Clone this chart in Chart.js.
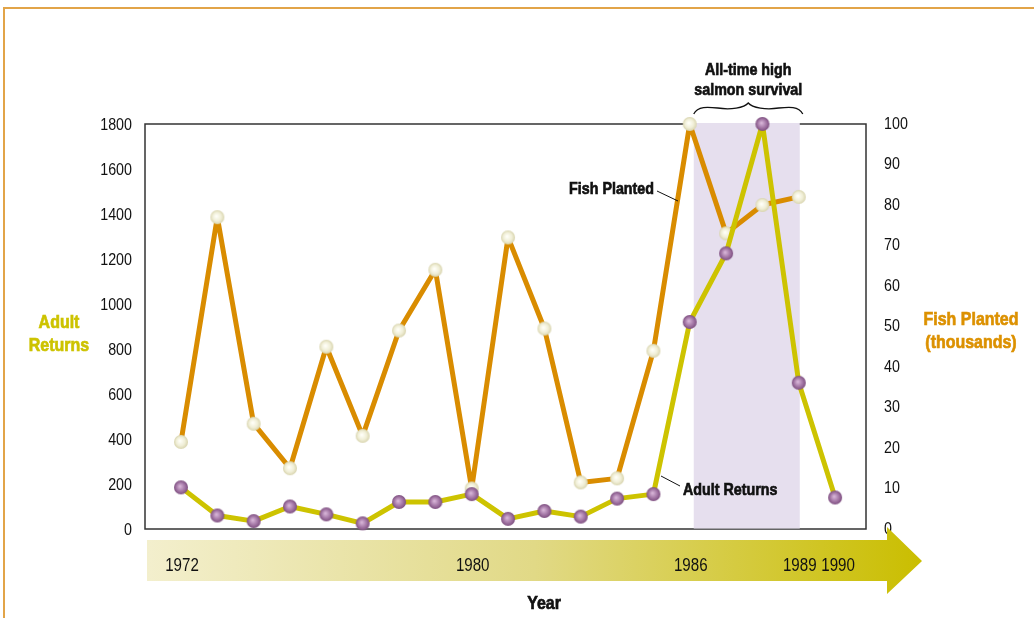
<!DOCTYPE html>
<html>
<head>
<meta charset="utf-8">
<script src="https://cdn.jsdelivr.net/npm/chart.js@4"></script>
<style>
  html, body { margin: 0; padding: 0; background: #fff; }
  #wrap { position: relative; width: 1034px; height: 618px; overflow: hidden; }
  #frame { position: absolute; left: 3px; top: 7px; width: 1040px; height: 700px;
           border-top: 2px solid #e2a448; border-left: 2px solid #e2a448; }
  canvas { position: absolute; left: 0; top: 0; }
</style>
</head>
<body>
<div id="wrap">
  <div id="frame"></div>
  <canvas id="chart" width="1034" height="618"></canvas>
</div>
<script>
// --- DATA ---
const years = [1972, 1973, 1974, 1975, 1976, 1977, 1978, 1979, 1980, 1981,
               1982, 1983, 1984, 1985, 1986, 1987, 1988, 1989, 1990];
// Fish planted, thousands (right axis), no value for 1990
const fishPlanted = [21.5, 77, 26, 15, 45, 23, 49, 64, 10, 72,
                     49.5, 11.5, 12.5, 44, 100, 73, 80, 82];
// Adult returns (left axis)
const adultReturns = [185, 60, 35, 100, 65, 25, 120, 120, 155, 45,
                      80, 55, 135, 155, 920, 1225, 1800, 650, 140];
const leftTicks = [0, 200, 400, 600, 800, 1000, 1200, 1400, 1600, 1800];
const rightTicks = [0, 10, 20, 30, 40, 50, 60, 70, 80, 90, 100];
const yearLabels = [1972, 1980, 1986, 1989, 1990];
const survivalBand = [1986, 1989];

const FONT = "'Liberation Sans', Arial, sans-serif";
const SQUEEZE = 0.84;   // fake a condensed face
const ORANGE = '#d98c00';
const LIME = '#cdc300';

// condensed text helper; heavy=true thickens bold labels a bit
function text(ctx, str, x, y, font, color, align, heavy) {
    ctx.save();
    ctx.translate(x, y);
    ctx.scale(SQUEEZE, 1);
    ctx.font = font;
    ctx.fillStyle = color;
    ctx.textAlign = align || 'center';
    ctx.textBaseline = 'middle';
    ctx.fillText(str, 0, 0);
    if (heavy) {
        ctx.strokeStyle = color;
        ctx.lineWidth = 0.7;
        ctx.strokeText(str, 0, 0);
    }
    ctx.restore();
}

// small shaded balls used as point markers
function makeBall(r, inner, outer, edge) {
    const c = document.createElement('canvas');
    c.width = c.height = r * 2 + 2;
    const g = c.getContext('2d');
    const cx = r + 1;
    const grad = g.createRadialGradient(cx - 1, cx - 1, 0.5, cx, cx, r);
    grad.addColorStop(0, inner);
    grad.addColorStop(0.6, outer);
    grad.addColorStop(1, edge);
    g.fillStyle = grad;
    g.beginPath();
    g.arc(cx, cx, r, 0, Math.PI * 2);
    g.fill();
    return c;
}
const creamBall = makeBall(7, '#fffff8', '#f0eed6', '#d8d4ae');
const purpleBall = makeBall(7, '#d6b3d6', '#a275a4', '#7e4f80');

// --- DECORATIONS ---
const decorPlugin = {
    id: 'decor',
    beforeDatasetsDraw(chart) {
        const { ctx, chartArea: a, scales } = chart;
        ctx.save();
        // plot frame
        ctx.strokeStyle = '#333';
        ctx.lineWidth = 1.5;
        ctx.strokeRect(a.left, a.top, a.right - a.left, a.bottom - a.top);
        // shaded band
        const x0 = scales.x.getPixelForValue(survivalBand[0]) + 4;
        const x1 = scales.x.getPixelForValue(survivalBand[1]) + 1;
        ctx.fillStyle = '#e6dfee';
        ctx.fillRect(x0, a.top - 1, x1 - x0, a.bottom - a.top + 0.5);
        ctx.restore();

        // tick labels, placed by the scales
        const yl = scales.yLeft, yr = scales.yRight;
        leftTicks.forEach(v => text(ctx, String(v), a.left - 13, yl.getPixelForValue(v) + 1,
                                    '17px ' + FONT, '#111', 'right'));
        rightTicks.forEach(v => text(ctx, String(v), a.right + 18, yr.getPixelForValue(v),
                                     '17px ' + FONT, '#111', 'left'));
    },
    afterDraw(chart) {
        const { ctx, chartArea: a, scales } = chart;
        const x = scales.x;
        ctx.save();

        // timeline arrow
        const bodyL = a.left + 2, bodyR = 887, top = 540, bot = 581;
        const grad = ctx.createLinearGradient(bodyL, 0, 922, 0);
        grad.addColorStop(0, '#f3efcd');
        grad.addColorStop(0.5, '#e1d986');
        grad.addColorStop(1, '#cabe00');
        ctx.fillStyle = grad;
        ctx.beginPath();
        ctx.moveTo(bodyL, top);
        ctx.lineTo(bodyR, top);
        ctx.lineTo(bodyR, 527);
        ctx.lineTo(922, 561);
        ctx.lineTo(bodyR, 594);
        ctx.lineTo(bodyR, bot);
        ctx.lineTo(bodyL, bot);
        ctx.closePath();
        ctx.fill();
        ctx.restore();

        // year labels on the arrow
        yearLabels.forEach(y => text(ctx, String(y), x.getPixelForValue(y) + (y === 1990 ? 3 : 1), 566,
                                     '18px ' + FONT, '#111'));
        text(ctx, 'Year', 544, 604, 'bold 19px ' + FONT, '#111', 'center', true);

        // axis titles
        text(ctx, 'Adult', 59, 323, 'bold 19px ' + FONT, LIME, 'center', true);
        text(ctx, 'Returns', 59, 346, 'bold 19px ' + FONT, LIME, 'center', true);
        text(ctx, 'Fish Planted', 971, 320, 'bold 19px ' + FONT, '#dc9100', 'center', true);
        text(ctx, '(thousands)', 971, 343, 'bold 19px ' + FONT, '#dc9100', 'center', true);

        // band annotation
        const bl = x.getPixelForValue(survivalBand[0]) + 4;
        const br = x.getPixelForValue(survivalBand[1]) + 4;
        const bm = (bl + br) / 2;
        text(ctx, 'All-time high', bm, 70, 'bold 17px ' + FONT, '#111', 'center', true);
        text(ctx, 'salmon survival', bm, 90, 'bold 17px ' + FONT, '#111', 'center', true);
        ctx.save();
        ctx.strokeStyle = '#111';
        ctx.lineWidth = 1.3;
        ctx.beginPath();
        ctx.moveTo(bl, 114);
        ctx.bezierCurveTo(bl + 4, 106, bl + 14, 107, bl + 24, 108);
        ctx.bezierCurveTo(bm - 18, 110, bm - 4, 108, bm, 103);
        ctx.bezierCurveTo(bm + 4, 108, bm + 18, 110, br - 24, 108);
        ctx.bezierCurveTo(br - 14, 107, br - 4, 106, br, 114);
        ctx.stroke();

        // series labels with leader lines
        ctx.lineWidth = 1;
        ctx.beginPath();
        ctx.moveTo(657, 191);
        ctx.lineTo(678, 201);
        ctx.moveTo(661, 476);
        ctx.lineTo(680, 486);
        ctx.stroke();
        ctx.restore();
        text(ctx, 'Fish Planted', 654, 189, 'bold 17px ' + FONT, '#111', 'right', true);
        text(ctx, 'Adult Returns', 683, 490, 'bold 17px ' + FONT, '#111', 'left', true);
    }
};

new Chart(document.getElementById('chart'), {
    type: 'line',
    data: {
        datasets: [
            {
                label: 'Adult Returns',
                data: years.map((y, i) => ({ x: y, y: adultReturns[i] })),
                yAxisID: 'yLeft',
                borderColor: LIME,
                borderWidth: 5,
                borderJoinStyle: 'round',
                pointStyle: purpleBall,
                pointRadius: 7,
                clip: false,
                tension: 0
            },
            {
                label: 'Fish Planted',
                data: fishPlanted.map((v, i) => ({ x: years[i], y: v })),
                yAxisID: 'yRight',
                borderColor: ORANGE,
                borderWidth: 5,
                borderJoinStyle: 'round',
                pointStyle: creamBall,
                pointRadius: 7,
                clip: false,
                tension: 0
            }
        ]
    },
    options: {
        responsive: false,
        animation: false,
        layout: { padding: { top: 124, bottom: 89, left: 0, right: 0 } },
        plugins: { legend: { display: false }, tooltip: { enabled: false } },
        scales: {
            x: {
                type: 'linear',
                min: 1971.01,
                max: 1990.85,
                display: false
            },
            yLeft: {
                position: 'left',
                min: 0,
                max: 1800,
                afterFit: s => { s.width = 145; },
                grid: { display: false, drawTicks: false },
                border: { display: false },
                ticks: { display: false }
            },
            yRight: {
                position: 'right',
                min: 0,
                max: 100,
                afterFit: s => { s.width = 168; },
                grid: { display: false, drawTicks: false },
                border: { display: false },
                ticks: { display: false }
            }
        }
    },
    plugins: [decorPlugin]
});
</script>
</body>
</html>
